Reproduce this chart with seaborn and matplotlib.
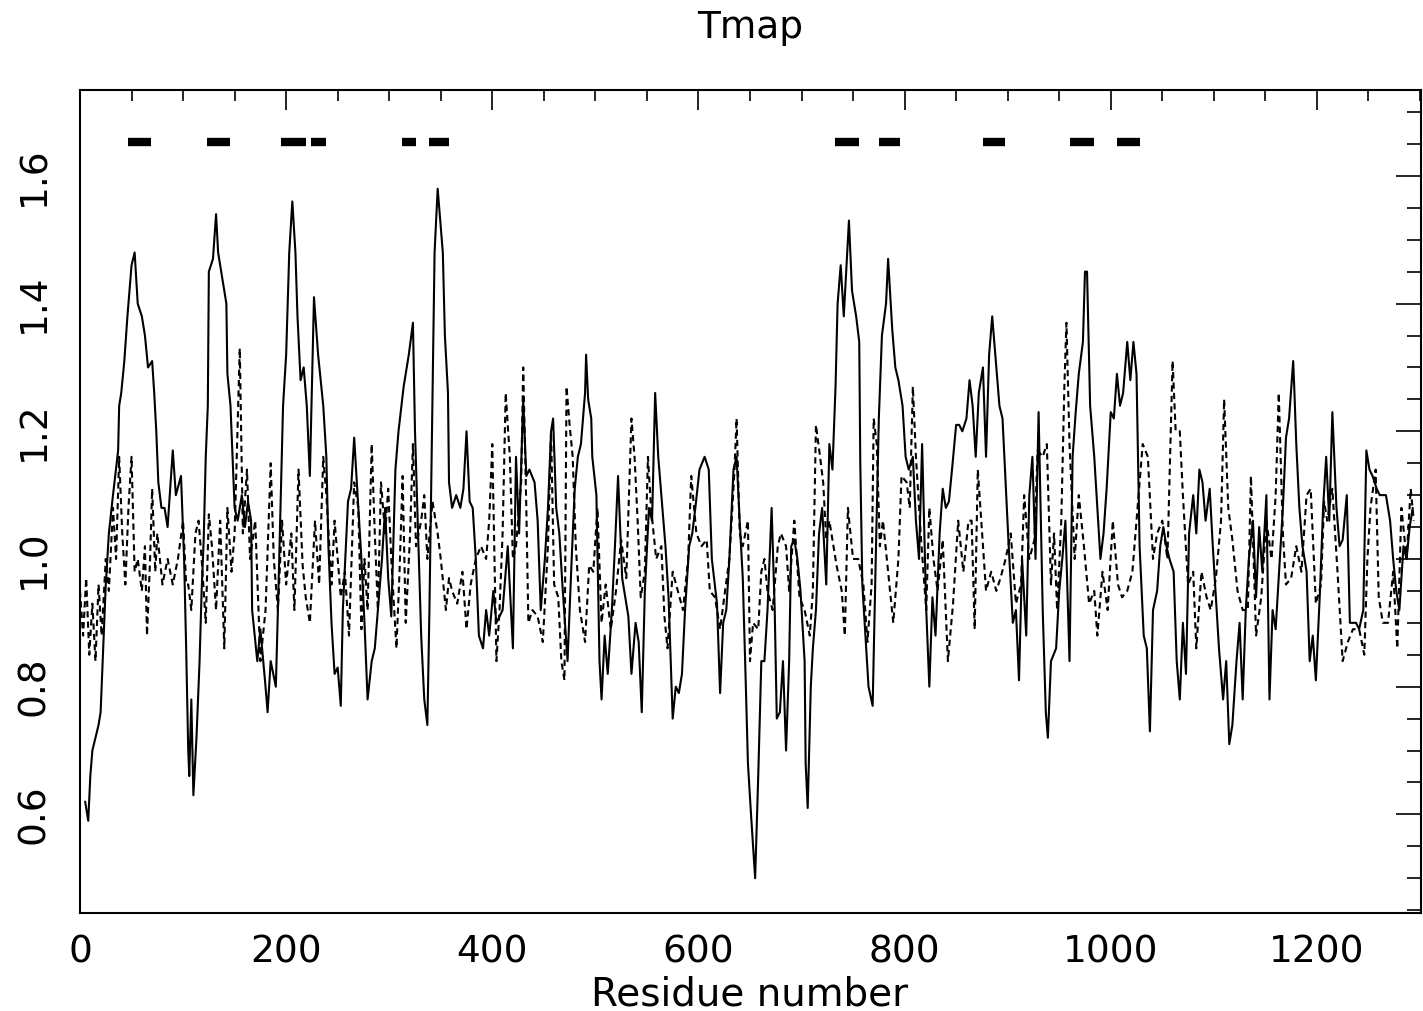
import matplotlib
matplotlib.use('Agg')
import matplotlib.pyplot as plt
import seaborn as sns
from matplotlib.ticker import MultipleLocator

# --- data (residue, value) ---
solid_res = [5, 8, 10, 12, 15, 18, 20, 25, 28, 32, 37, 38, 40, 43, 46, 50, 53, 56, 60, 63, 66, 70, 72, 74, 76, 79,
             82, 85, 90, 93, 98, 101, 103, 105, 106, 108, 110, 113, 116, 118, 120, 122, 124, 125, 129, 132, 134, 137,
             142, 143, 146, 148, 150, 153, 157, 160, 163, 166, 167, 172, 175, 180, 182, 185, 190, 192, 195, 197, 200,
             203, 206, 209, 211, 214, 217, 220, 223, 227, 231, 236, 239, 241, 244, 247, 250, 253, 255, 260, 263, 266,
             270, 273, 276, 279, 283, 286, 289, 293, 296, 299, 302, 306, 309, 314, 319, 323, 325, 328, 331, 334, 337,
             339, 342, 344, 347, 350, 352, 354, 357, 358, 361, 365, 369, 372, 375, 378, 381, 384, 387, 391, 394, 397,
             401, 404, 407, 410, 415, 420, 423, 426, 430, 433, 436, 441, 444, 447, 451, 454, 457, 459, 462, 465, 468,
             473, 477, 480, 483, 486, 490, 491, 493, 496, 497, 501, 504, 506, 509, 512, 516, 519, 522, 526, 529, 532,
             535, 539, 542, 545, 548, 552, 555, 558, 561, 565, 568, 571, 575, 578, 581, 584, 587, 591, 594, 597, 601,
             606, 610, 613, 618, 621, 624, 627, 630, 634, 637, 640, 643, 646, 648, 651, 655, 658, 661, 664, 667, 671,
             674, 676, 679, 682, 685, 688, 690, 693, 696, 699, 703, 704, 706, 709, 711, 714, 717, 720, 724, 727, 730,
             733, 735, 738, 741, 746, 749, 753, 756, 757, 759, 762, 765, 769, 772, 775, 778, 782, 784, 788, 791, 794,
             798, 801, 804, 808, 811, 814, 817, 821, 824, 827, 830, 834, 837, 840, 843, 846, 850, 853, 856, 860, 863,
             866, 869, 872, 876, 879, 882, 885, 889, 892, 895, 898, 901, 905, 908, 911, 914, 918, 921, 924, 927, 930,
             934, 937, 939, 942, 947, 950, 953, 956, 960, 963, 966, 969, 973, 975, 977, 980, 984, 987, 990, 993, 996,
             1000, 1003, 1006, 1009, 1012, 1016, 1019, 1022, 1025, 1028, 1032, 1035, 1038, 1041, 1045, 1048, 1051,
             1054, 1057, 1061, 1064, 1067, 1070, 1073, 1076, 1080, 1083, 1086, 1089, 1092, 1096, 1099, 1102, 1105,
             1109, 1112, 1115, 1118, 1122, 1125, 1128, 1131, 1134, 1138, 1141, 1144, 1147, 1151, 1154, 1157, 1160,
             1164, 1167, 1170, 1173, 1177, 1178, 1180, 1183, 1186, 1190, 1193, 1196, 1199, 1203, 1206, 1209, 1212,
             1215, 1219, 1222, 1225, 1229, 1232, 1235, 1238, 1241, 1245, 1248, 1251, 1254, 1258, 1261, 1264, 1267,
             1271, 1274, 1277, 1280, 1284, 1287, 1290, 1293]
solid_val = [0.62, 0.59, 0.66, 0.70, 0.72, 0.74, 0.76, 0.96, 1.04, 1.10, 1.17, 1.24, 1.26, 1.31, 1.38, 1.46, 1.48, 1.40,
             1.38, 1.35, 1.30, 1.31, 1.26, 1.20, 1.12, 1.08, 1.08, 1.05, 1.17, 1.10, 1.13, 1.00, 0.86, 0.70, 0.66, 0.78,
             0.63, 0.72, 0.84, 0.95, 1.03, 1.16, 1.24, 1.45, 1.47, 1.54, 1.48, 1.45, 1.40, 1.29, 1.24, 1.16, 1.08, 1.06,
             1.10, 1.05, 1.09, 1.06, 0.92, 0.84, 0.89, 0.80, 0.76, 0.84, 0.80, 0.92, 1.11, 1.24, 1.32, 1.48, 1.56, 1.48,
             1.38, 1.28, 1.30, 1.24, 1.13, 1.41, 1.32, 1.24, 1.16, 1.02, 0.90, 0.82, 0.83, 0.77, 0.92, 1.09, 1.11, 1.19,
             1.08, 1.00, 0.90, 0.78, 0.84, 0.86, 0.92, 1.00, 1.08, 0.97, 0.91, 1.14, 1.20, 1.27, 1.32, 1.37, 1.20, 1.04,
             0.88, 0.78, 0.74, 0.92, 1.26, 1.48, 1.58, 1.52, 1.48, 1.35, 1.26, 1.12, 1.08, 1.10, 1.08, 1.11, 1.20, 1.09,
             1.08, 1.00, 0.88, 0.86, 0.92, 0.88, 0.95, 0.90, 0.91, 0.92, 1.02, 0.86, 1.16, 1.04, 1.25, 1.13, 1.14, 1.12,
             1.06, 0.92, 1.00, 1.08, 1.20, 1.22, 1.08, 1.04, 0.96, 0.84, 1.00, 1.11, 1.16, 1.18, 1.26, 1.32, 1.25, 1.22,
             1.16, 1.10, 0.84, 0.78, 0.88, 0.82, 0.92, 1.02, 1.13, 0.97, 0.94, 0.91, 0.82, 0.90, 0.87, 0.76, 0.95, 1.08,
             1.06, 1.26, 1.16, 1.08, 1.02, 0.94, 0.75, 0.80, 0.79, 0.82, 0.92, 1.02, 1.04, 1.08, 1.14, 1.16, 1.14, 1.00,
             0.93, 0.79, 0.90, 0.92, 1.00, 1.14, 1.16, 1.06, 0.97, 0.80, 0.68, 0.60, 0.50, 0.66, 0.84, 0.84, 0.92, 1.08,
             0.92, 0.75, 0.76, 0.84, 0.70, 0.84, 1.02, 1.03, 1.00, 0.95, 0.84, 0.68, 0.61, 0.80, 0.86, 0.92, 1.04, 1.08,
             0.96, 1.18, 1.14, 1.27, 1.40, 1.46, 1.38, 1.53, 1.42, 1.38, 1.34, 1.15, 0.96, 0.88, 0.80, 0.77, 1.00, 1.22,
             1.35, 1.40, 1.47, 1.36, 1.30, 1.28, 1.24, 1.16, 1.14, 1.16, 1.06, 1.00, 1.18, 0.92, 0.80, 0.94, 0.88, 1.04,
             1.11, 1.08, 1.09, 1.14, 1.21, 1.21, 1.20, 1.22, 1.28, 1.24, 1.16, 1.26, 1.30, 1.16, 1.32, 1.38, 1.30, 1.24,
             1.22, 1.12, 1.02, 0.90, 0.92, 0.81, 1.00, 0.88, 1.10, 1.16, 1.00, 1.23, 0.92, 0.76, 0.72, 0.84, 0.86, 0.95,
             1.00, 1.06, 0.84, 1.16, 1.23, 1.29, 1.34, 1.45, 1.45, 1.24, 1.16, 1.08, 1.00, 1.04, 1.11, 1.23, 1.22, 1.29,
             1.24, 1.26, 1.34, 1.28, 1.34, 1.29, 1.02, 0.88, 0.86, 0.73, 0.92, 0.95, 1.02, 1.05, 1.02, 1.00, 0.98, 0.84,
             0.78, 0.90, 0.82, 1.04, 1.10, 1.04, 1.14, 1.12, 1.06, 1.11, 1.02, 0.94, 0.86, 0.78, 0.84, 0.71, 0.74, 0.84,
             0.90, 0.78, 0.92, 1.00, 1.06, 0.94, 1.05, 0.98, 1.10, 0.78, 0.92, 0.89, 1.00, 1.08, 1.19, 1.22, 1.31, 1.27,
             1.18, 1.08, 1.02, 0.98, 0.84, 0.88, 0.81, 0.95, 1.08, 1.16, 1.06, 1.23, 1.08, 1.02, 1.03, 1.10, 0.90, 0.90,
             0.90, 0.89, 0.92, 1.17, 1.14, 1.13, 1.11, 1.10, 1.10, 1.10, 1.06, 1.00, 0.95, 0.92, 1.02, 1.00, 1.05, 1.08]

dashed_res = [0, 3, 6, 9, 12, 15, 18, 21, 25, 28, 32, 35, 38, 41, 44, 47, 50, 53, 56, 60, 63, 65, 68, 70, 73, 75, 80,
              85, 90, 95, 100, 103, 105, 108, 112, 115, 118, 122, 125, 128, 132, 136, 140, 143, 147, 150, 155, 158,
              162, 165, 170, 175, 180, 185, 188, 192, 196, 200, 205, 208, 212, 216, 219, 223, 228, 232, 236, 239, 244,
              247, 250, 253, 257, 261, 266, 270, 273, 276, 279, 283, 286, 289, 292, 296, 299, 302, 307, 310, 313, 316,
              320, 323, 326, 331, 334, 337, 342, 347, 350, 355, 358, 361, 366, 371, 375, 379, 384, 389, 394, 397, 400,
              404, 407, 410, 413, 417, 420, 423, 428, 430, 433, 435, 439, 444, 449, 454, 457, 460, 464, 467, 470, 472,
              475, 478, 481, 485, 490, 494, 498, 502, 506, 510, 515, 520, 525, 530, 535, 538, 541, 544, 548, 551, 554,
              559, 564, 567, 570, 575, 580, 585, 590, 593, 598, 603, 608, 611, 616, 621, 625, 630, 635, 637, 640, 643,
              648, 650, 653, 658, 661, 664, 667, 672, 677, 680, 685, 688, 693, 698, 703, 708, 711, 714, 718, 721, 724,
              727, 734, 739, 742, 745, 750, 755, 760, 764, 768, 770, 773, 776, 779, 784, 789, 794, 797, 802, 805, 808,
              811, 816, 821, 824, 828, 832, 837, 842, 847, 852, 857, 862, 865, 868, 871, 876, 879, 884, 889, 893, 898,
              903, 908, 913, 916, 921, 926, 929, 934, 938, 942, 945, 948, 952, 955, 957, 960, 965, 969, 974, 979, 984,
              987, 992, 997, 1002, 1007, 1011, 1016, 1021, 1026, 1031, 1036, 1041, 1045, 1050, 1055, 1060, 1063, 1067,
              1070, 1075, 1080, 1083, 1088, 1093, 1097, 1102, 1107, 1110, 1114, 1118, 1123, 1128, 1133, 1136, 1141,
              1146, 1151, 1156, 1160, 1163, 1167, 1170, 1175, 1180, 1185, 1190, 1194, 1199, 1204, 1207, 1210, 1215,
              1220, 1225, 1230, 1235, 1241, 1246, 1249, 1252, 1257, 1260, 1264, 1269, 1274, 1278, 1282, 1287, 1291, 1294]
dashed_val = [0.95, 0.88, 0.97, 0.85, 0.93, 0.84, 0.96, 0.88, 1.00, 0.95, 1.08, 1.00, 1.16, 1.04, 0.96, 1.08, 1.16,
              0.98, 1.00, 0.95, 1.02, 0.88, 1.00, 1.11, 0.98, 1.04, 0.96, 1.00, 0.96, 1.00, 1.06, 0.96, 0.96, 0.92,
              1.04, 1.06, 1.00, 0.90, 1.07, 1.02, 0.92, 1.06, 0.86, 1.08, 0.98, 1.04, 1.33, 1.04, 1.14, 1.00, 1.06,
              0.84, 0.92, 1.15, 1.00, 0.92, 1.06, 0.96, 1.04, 0.92, 1.14, 0.99, 0.94, 0.90, 1.06, 0.96, 1.16, 1.10,
              0.96, 1.06, 1.00, 0.94, 0.98, 0.88, 1.12, 1.08, 0.89, 1.00, 0.92, 1.18, 1.04, 0.92, 1.12, 1.04, 1.11,
              1.00, 0.86, 0.98, 1.13, 0.90, 1.03, 1.18, 1.02, 1.06, 1.10, 1.00, 1.09, 1.04, 1.00, 0.92, 0.97, 0.95,
              0.93, 0.98, 0.89, 0.96, 1.00, 1.02, 1.00, 1.06, 1.18, 0.84, 0.92, 1.04, 1.26, 1.16, 1.00, 1.02, 1.12,
              1.30, 1.08, 0.90, 0.92, 0.91, 0.87, 1.02, 1.20, 0.96, 0.94, 0.84, 0.81, 1.27, 1.21, 1.16, 1.02, 0.92,
              0.87, 0.99, 0.98, 1.08, 0.90, 0.96, 0.89, 0.95, 1.03, 0.97, 1.22, 1.16, 1.06, 0.94, 0.98, 1.16, 1.08,
              1.00, 1.02, 0.91, 0.86, 0.98, 0.95, 0.92, 1.00, 1.13, 1.04, 1.02, 1.03, 0.95, 0.94, 0.89, 0.94, 1.00,
              1.14, 1.22, 1.04, 1.02, 1.06, 0.84, 0.90, 0.89, 0.98, 1.00, 0.95, 0.92, 1.02, 1.04, 1.02, 0.95, 1.06,
              0.94, 0.92, 0.88, 0.95, 1.21, 1.16, 1.12, 1.03, 1.06, 0.99, 0.95, 0.88, 1.08, 1.00, 1.00, 0.96, 0.87,
              0.96, 1.22, 1.18, 1.02, 1.06, 0.98, 0.90, 1.00, 1.13, 1.12, 1.08, 1.27, 1.16, 1.03, 0.92, 1.08, 1.00,
              0.95, 1.03, 0.84, 0.93, 1.06, 0.98, 1.06, 1.06, 0.89, 1.14, 1.02, 0.95, 0.98, 0.95, 0.97, 1.00, 1.04,
              0.93, 0.96, 1.10, 1.00, 1.03, 1.17, 1.16, 1.18, 0.96, 1.04, 0.92, 1.06, 1.27, 1.37, 1.18, 1.00, 1.10,
              1.02, 0.93, 0.95, 0.88, 0.98, 0.92, 1.06, 0.96, 0.94, 0.95, 0.98, 1.08, 1.18, 1.16, 1.00, 1.04, 1.06,
              1.00, 1.31, 1.20, 1.20, 1.10, 0.96, 0.98, 0.86, 0.98, 0.94, 0.92, 0.97, 1.06, 1.25, 1.08, 1.03, 0.95,
              0.92, 0.92, 1.13, 0.88, 0.94, 1.06, 1.00, 1.10, 1.26, 1.04, 0.96, 0.97, 1.02, 0.98, 1.10, 1.11, 0.93,
              0.96, 1.09, 1.06, 1.11, 0.98, 0.84, 0.87, 0.89, 0.89, 0.85, 1.00, 1.08, 1.14, 0.94, 0.90, 0.90, 0.98,
              0.86, 1.08, 1.00, 1.11, 1.06]

# predicted segments drawn as black bars near the top
seg_start = [47, 123, 195, 224.5, 312, 339, 732.5, 775, 876, 960, 1006]
seg_end = [68.5, 146, 219, 239, 326, 358, 756, 796, 897, 983.5, 1028]
seg_level = 1.653

x_ticks = [0, 200, 400, 600, 800, 1000, 1200]
y_ticks = [0.6, 0.8, 1.0, 1.2, 1.4, 1.6]
y_labels = ['0.6', '0.8', '1.0', '1.2', '1.4', '1.6']

sns.set_style('white')
plt.rcParams['font.family'] = ['DejaVu Sans']
plt.rcParams['text.color'] = 'black'
plt.rcParams['xtick.color'] = 'black'
plt.rcParams['ytick.color'] = 'black'
plt.rcParams['xtick.labelcolor'] = 'black'
plt.rcParams['ytick.labelcolor'] = 'black'

fig = plt.figure(figsize=(14.23, 10.11), dpi=100)
ax = fig.add_axes([80 / 1423, 1 - 912.7 / 1011, (1421 - 80) / 1423, (912.7 - 90) / 1011])

sns.lineplot(x=solid_res, y=solid_val, ax=ax, color='black', linewidth=1.5,
             estimator=None, sort=False)
sns.lineplot(x=dashed_res, y=dashed_val, ax=ax, color='black', linewidth=1.5,
             linestyle=(0, (3, 2)), estimator=None, sort=False)

ax.hlines([seg_level] * len(seg_start), seg_start, seg_end, color='black',
          linewidth=6, capstyle='butt')

ax.set_xlim(0, 1301)
ax.set_ylim(0.446, 1.7345)
ax.set_xticks(x_ticks)
ax.set_yticks(y_ticks)
ax.set_yticklabels(y_labels)
ax.xaxis.set_minor_locator(MultipleLocator(50))
ax.yaxis.set_minor_locator(MultipleLocator(0.05))
ax.set_xlabel('')
ax.set_ylabel('')

ax.tick_params(axis='both', which='both', direction='in', top=True, right=True,
               color='black', labelcolor='black', width=1.2)
ax.tick_params(axis='x', which='major', length=14.5, labelsize=27, pad=16)
ax.tick_params(axis='x', which='minor', length=8)
ax.tick_params(axis='y', which='major', length=18, labelsize=27, pad=20, labelrotation=90)
ax.tick_params(axis='y', which='minor', length=10)
for lab in ax.get_yticklabels():
    lab.set_va('center')
for sp in ax.spines.values():
    sp.set_visible(True)
    sp.set_color('black')
    sp.set_linewidth(1.5)

fig.text(750 / 1423, 1 - 38 / 1011, 'Tmap', ha='center', va='baseline', fontsize=27, color='black')
fig.text(750 / 1423, 1 - 1005 / 1011, 'Residue number', ha='center', va='baseline', fontsize=28,
         color='black')

fig.savefig('out.png', dpi=100, facecolor='white')
